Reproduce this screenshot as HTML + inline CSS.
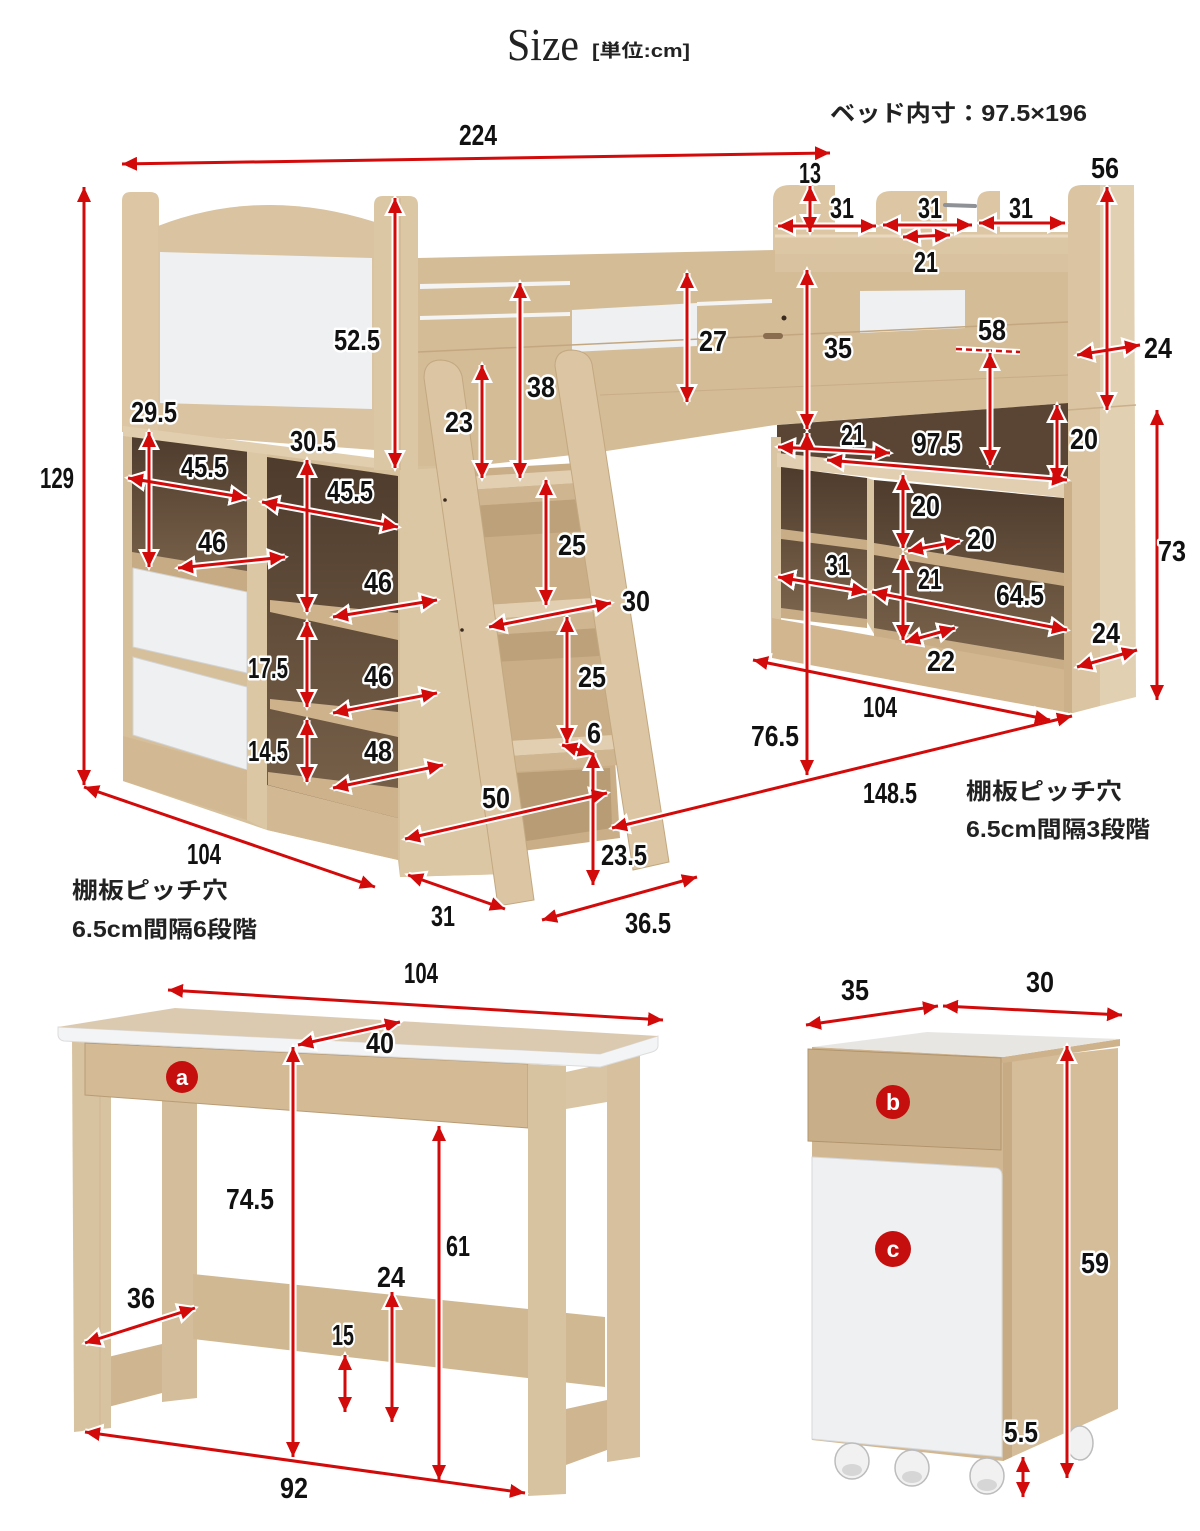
<!DOCTYPE html>
<html><head><meta charset="utf-8">
<style>
html,body{margin:0;padding:0;background:#fff;}
svg{display:block}
.t{font-family:"Liberation Sans","Noto Sans CJK JP",sans-serif;font-weight:bold;font-size:29px;text-anchor:middle;fill:#111;stroke:#fff;stroke-width:5px;stroke-linejoin:round;paint-order:stroke}
.j{font-family:"Liberation Sans","Noto Sans CJK JP",sans-serif;font-weight:bold;font-size:23px;fill:#222}
.h{stroke:#fff;stroke-width:7;marker-start:url(#hw);marker-end:url(#hw);fill:none}
.r{stroke:#d20a0a;stroke-width:3;marker-start:url(#hr);marker-end:url(#hr);fill:none}
.w{fill:#dac5a3}
.wd{fill:#cfb590}
.wl{fill:#e2cfb1}
.wh{fill:#eef0f2}
.dk{fill:url(#dk)}
</style></head>
<body>
<svg width="1200" height="1531" viewBox="0 0 1200 1531" xmlns="http://www.w3.org/2000/svg">
<defs>
 <marker id="hr" viewBox="0 0 15 14" refX="15" refY="7" markerWidth="15" markerHeight="14" orient="auto-start-reverse" markerUnits="userSpaceOnUse"><path d="M0,0 L15,7 L0,14 Z" fill="#d20a0a"/></marker>
 <marker id="hw" viewBox="-3 -4 22 22" refX="15" refY="7" markerWidth="22" markerHeight="22" orient="auto-start-reverse" markerUnits="userSpaceOnUse"><path d="M-3,-4 L19,7 L-3,18 Z" fill="#fff"/></marker>
 <linearGradient id="dk" x1="0" y1="0" x2="0" y2="1"><stop offset="0" stop-color="#4e3b2c"/><stop offset="1" stop-color="#7d664e"/></linearGradient>
 <g id="arr">
  <line x1="122" y1="164" x2="830" y2="153"/>
  <line x1="84" y1="187" x2="84" y2="785"/>
  <line x1="810" y1="186" x2="810" y2="232"/>
  <line x1="778" y1="226" x2="876" y2="226"/>
  <line x1="883" y1="225" x2="972" y2="225"/>
  <line x1="979" y1="223" x2="1065" y2="223"/>
  <line x1="903" y1="237" x2="950" y2="235"/>
  <line x1="1107" y1="187" x2="1107" y2="410"/>
  <line x1="1077" y1="355" x2="1140" y2="345"/>
  <line x1="990" y1="353" x2="990" y2="465"/>
  <line x1="687" y1="273" x2="687" y2="402"/>
  <line x1="807" y1="270" x2="807" y2="429"/>
  <line x1="807" y1="433" x2="807" y2="775"/>
  <line x1="1057" y1="405" x2="1057" y2="483"/>
  <line x1="778" y1="447" x2="890" y2="453"/>
  <line x1="827" y1="460" x2="1067" y2="480"/>
  <line x1="1157" y1="410" x2="1157" y2="700"/>
  <line x1="903" y1="475" x2="903" y2="548"/>
  <line x1="908" y1="551" x2="960" y2="541"/>
  <line x1="903" y1="555" x2="903" y2="640"/>
  <line x1="905" y1="642" x2="955" y2="628"/>
  <line x1="778" y1="577" x2="867" y2="592"/>
  <line x1="872" y1="592" x2="1067" y2="630"/>
  <line x1="1077" y1="667" x2="1137" y2="650"/>
  <line x1="753" y1="660" x2="1050" y2="720"/>
  <line x1="612" y1="828" x2="1072" y2="716"/>
  <line x1="395" y1="198" x2="395" y2="468"/>
  <line x1="520" y1="283" x2="520" y2="478"/>
  <line x1="482" y1="365" x2="482" y2="478"/>
  <line x1="546" y1="480" x2="546" y2="605"/>
  <line x1="489" y1="627" x2="611" y2="603"/>
  <line x1="567" y1="617" x2="567" y2="743"/>
  <line x1="562" y1="745" x2="593" y2="754"/>
  <line x1="593" y1="753" x2="593" y2="885"/>
  <line x1="405" y1="839" x2="607" y2="793"/>
  <line x1="408" y1="875" x2="505" y2="909"/>
  <line x1="542" y1="920" x2="697" y2="877"/>
  <line x1="84" y1="787" x2="375" y2="887"/>
  <line x1="149" y1="432" x2="149" y2="567"/>
  <line x1="128" y1="478" x2="247" y2="498"/>
  <line x1="178" y1="568" x2="285" y2="557"/>
  <line x1="307" y1="460" x2="307" y2="612"/>
  <line x1="262" y1="502" x2="398" y2="527"/>
  <line x1="333" y1="617" x2="437" y2="600"/>
  <line x1="307" y1="622" x2="307" y2="707"/>
  <line x1="333" y1="713" x2="437" y2="693"/>
  <line x1="307" y1="720" x2="307" y2="782"/>
  <line x1="333" y1="788" x2="443" y2="765"/>
  <line x1="168" y1="990" x2="663" y2="1020"/>
  <line x1="298" y1="1045" x2="400" y2="1022"/>
  <line x1="293" y1="1047" x2="293" y2="1457"/>
  <line x1="439" y1="1126" x2="439" y2="1480"/>
  <line x1="85" y1="1432" x2="525" y2="1493"/>
  <line x1="85" y1="1343" x2="195" y2="1308"/>
  <line x1="392" y1="1292" x2="392" y2="1422"/>
  <line x1="345" y1="1355" x2="345" y2="1412"/>
  <line x1="806" y1="1025" x2="938" y2="1006"/>
  <line x1="943" y1="1006" x2="1122" y2="1015"/>
  <line x1="1067" y1="1046" x2="1067" y2="1478"/>
  <line x1="1023" y1="1457" x2="1023" y2="1497"/>
 </g>
</defs>

<!-- TITLE -->
<text x="507" y="60" font-family="'Liberation Serif',serif" font-size="46" fill="#222" textLength="72" lengthAdjust="spacingAndGlyphs">Size</text>
<text x="592" y="57" font-family="'Liberation Sans','Noto Sans CJK JP',sans-serif" font-weight="bold" font-size="18" fill="#222" textLength="98" lengthAdjust="spacingAndGlyphs">[単位:cm]</text>
<text class="j" x="830" y="121" font-size="24" textLength="257" lengthAdjust="spacingAndGlyphs">ベッド内寸：97.5×196</text>

<!-- BED right tall post -->
<path d="M1068,198 Q1068,185 1082,185 L1100,185 L1100,706 L1073,713 L1068,713 Z" fill="#dac4a1"/>
<path d="M1100,185 L1134,185 L1136,697 L1100,706 Z" fill="#e2d0b3"/>
<line x1="1068" y1="410" x2="1136" y2="405" stroke="#c9af8a" stroke-width="1.5"/>

<!-- bed side frame -->
<path d="M418,258 L775,250 L1068,246 L1068,403 L775,425 L600,452 L418,472 Z" fill="#d4bc97"/>
<path d="M775,248 L1068,246 L1068,272 L775,272 Z" fill="#d8c29f"/>
<path d="M420,284 L570,281 L570,285 L420,289 Z" fill="#f4f4f4"/>
<path d="M420,316 L570,312 L570,316 L420,320 Z" fill="#f4f4f4"/>
<path d="M572,310 L697,303 L697,346 L572,352 Z" fill="#eef0f2"/>
<path d="M697,302 L772,299 L772,303 L697,306 Z" fill="#f4f4f4"/>
<path d="M860,291 L965,290 L965,328 L860,333 Z" fill="#eef0f2"/>
<line x1="418" y1="352" x2="1068" y2="322" stroke="#c3a781" stroke-width="1.5"/>
<line x1="600" y1="395" x2="1068" y2="375" stroke="#c8ad88" stroke-width="1"/>
<rect x="763" y="333" width="20" height="6" rx="3" fill="#8a6d4f"/>
<circle cx="784" cy="318" r="2.5" fill="#3a2a1d"/>

<!-- cubby headboard -->
<rect x="775" y="232" width="293" height="22" fill="#dcc7a5"/>
<path d="M773,250 L773,200 Q773,185 790,185 L835,185 L835,250 Z" fill="#dcc6a3"/>
<path d="M876,250 L876,204 Q876,191 892,191 L947,191 L947,250 Z" fill="#dcc6a3"/>
<path d="M977,250 L977,204 Q977,191 990,191 L1000,191 L1000,250 Z" fill="#dcc6a3"/>
<line x1="945" y1="205" x2="975" y2="206" stroke="#8e9196" stroke-width="4" stroke-linecap="round"/>
<line x1="775" y1="236" x2="1068" y2="236" stroke="#ead9bf" stroke-width="3"/>

<!-- dark zone under bed right -->
<path d="M777,425 L1068,403 L1068,487 L777,456 Z" fill="#5a4534"/>

<!-- right lower shelf unit -->
<path d="M771,437 L781,437 L781,660 L771,657 Z" class="w"/>
<path d="M777,453 L1067,482 L1067,498 L777,467 Z" class="wl"/>
<path d="M781,467 L867,478 L867,622 L781,615 Z" class="dk"/>
<path d="M867,478 L874,480 L874,634 L867,622 Z" class="w"/>
<path d="M874,480 L1064,498 L1064,668 L874,634 Z" class="dk"/>
<path d="M781,529 L867,540 L867,550 L781,539 Z" fill="#c8ad87"/>
<path d="M874,543 L1064,573 L1064,586 L874,555 Z" fill="#c8ad87"/>
<path d="M781,608 L867,619 L867,628 L781,618 Z" fill="#c8ad87"/>
<path d="M874,628 L1064,660 L1064,672 L874,638 Z" fill="#c8ad87"/>
<path d="M772,618 L1067,670 L1070,713 L772,658 Z" fill="#d1b690"/>
<path d="M1064,482 L1072,482 L1072,713 L1064,712 Z" fill="#cbb08a"/>

<!-- LEFT CABINET -->
<path d="M123,428 L420,466 L442,466 L508,874 L400,877 L398,860 L267,830 L123,781 Z" fill="#d6bf9b"/>
<path d="M400,470 L442,468 L508,874 L400,877 Z" fill="#dcc7a5"/>
<path d="M132,434 L247,446 L247,592 L132,568 Z" class="dk"/>
<path d="M132,552 L247,571 L247,592 L132,568 Z" fill="#c7ab84"/>
<path d="M133,568 L247,592 L247,673 L133,647 Z" class="wh" stroke="#d2d4d6"/>
<path d="M133,657 L247,687 L247,770 L133,735 Z" class="wh" stroke="#d2d4d6"/>
<path d="M247,446 L267,453 L267,830 L247,820 Z" fill="#dcc7a5"/>
<path d="M267,457 L398,476 L398,852 L267,827 Z" class="dk"/>
<path d="M270,600 L398,613 L398,640 L270,612 Z" fill="#cdb28c"/>
<path d="M270,699 L398,712 L398,737 L270,709 Z" fill="#cdb28c"/>
<path d="M268,772 L398,788 L398,818 L268,785 Z" fill="#cdb28c"/>
<path d="M267,785 L398,818 L398,860 L267,830 Z" fill="#d3b993"/>
<path d="M123,736 L247,770 L247,820 L123,781 Z" fill="#d3b993"/>

<!-- headboard -->
<path d="M122,432 L122,201 Q122,192 131,192 L150,192 Q159,192 159,201 L159,432 Z" fill="#dcc6a4"/>
<path d="M158,226 Q262,186 375,222 L375,450 L158,434 Z" fill="#d9c3a0"/>
<path d="M160,252 L372,258 L372,409 L160,403 Z" class="wh"/>
<path d="M123,426 L375,458 L375,468 L123,436 Z" fill="#e1ceae"/>
<path d="M374,470 L374,205 Q374,196 383,196 L409,196 Q418,196 418,205 L418,470 Z" fill="#dcc7a5"/>
<line x1="400" y1="198" x2="400" y2="470" stroke="#ccb18c" stroke-width="1"/>

<!-- stair box -->
<path d="M455,470 L596,462 L620,838 L515,852 Z" fill="#c9ae88"/>
<path d="M470,506 L597,498 L600,530 L474,538 Z" fill="#bda17b"/>
<path d="M490,635 L614,627 L616,655 L494,662 Z" fill="#bda17b"/>
<path d="M515,773 L610,768 L612,828 L520,842 Z" fill="#b89c76"/>

<!-- treads -->
<path d="M465,477 L590,469 L594,482 L467,490 Z" class="wl"/>
<path d="M467,490 L594,482 L596,498 L470,506 Z" class="wd"/>
<path d="M485,605 L609,597 L612,611 L487,619 Z" class="wl"/>
<path d="M487,619 L612,611 L614,627 L490,635 Z" class="wd"/>
<path d="M508,741 L631,734 L633,748 L510,756 Z" class="wl"/>
<path d="M510,756 L633,748 L635,764 L513,772 Z" class="wd"/>

<!-- stringers -->
<path d="M424,378 Q424,360 441,360 Q458,361 462,376 L534,900 L498,906 Z" fill="#dbc5a2" stroke="#c3a880" stroke-width="1"/>
<path d="M555,366 Q555,350 572,350 Q589,351 592,364 L669,862 L633,870 Z" fill="#dbc5a2" stroke="#c3a880" stroke-width="1"/>
<circle cx="445" cy="500" r="1.8" fill="#3a2a1d"/>
<circle cx="462" cy="630" r="1.8" fill="#3a2a1d"/>

<!-- DESK -->
<path d="M162,1098 L197,1098 L197,1398 L162,1402 Z" fill="#d4bd9a"/>
<path d="M193,1274 L605,1317 L605,1387 L193,1339 Z" fill="#d0b892"/>
<path d="M607,1057 L640,1050 L640,1457 L607,1462 Z" fill="#d6c09e"/>
<path d="M566,1072 L607,1063 L607,1102 L566,1109 Z" fill="#d9c5a4"/>
<path d="M566,1409 L607,1400 L607,1450 L566,1465 Z" fill="#cfb590"/>
<path d="M108,1357 L162,1344 L162,1393 L108,1407 Z" fill="#cfb590"/>
<path d="M72,1038 L111,1038 L111,1428 L74,1432 Z" fill="#d8c3a1"/>
<line x1="100" y1="1040" x2="100" y2="1430" stroke="#cdb592" stroke-width="1"/>
<path d="M85,1043 L528,1064 L528,1128 L85,1095 Z" fill="#d4bb95" stroke="#b89c76" stroke-width="1"/>
<path d="M528,1064 L566,1066 L566,1494 L528,1496 Z" fill="#d8c3a1"/>
<path d="M58,1027 L600,1054 L658,1036 L658,1046 Q658,1050 652,1052 L600,1067 L64,1041 Q58,1040 58,1034 Z" fill="#f3f4f6" stroke="#dcdcdc" stroke-width="1"/>
<path d="M58,1027 L175,1008 L658,1036 L600,1054 Z" fill="#dccab0"/>

<!-- CABINET -->
<path d="M1003,1061 L1118,1048 L1118,1409 L1003,1461 Z" fill="#d5bd99"/>
<path d="M1003,1061 L1012,1060 L1012,1457 L1003,1461 Z" fill="#c7ab85"/>
<path d="M812,1047 L1003,1057 L1003,1461 L812,1440 Z" fill="#d2b892"/>
<path d="M812,1047 L1003,1057 L1120,1039 L1120,1046 L1003,1063 L812,1053 Z" fill="#cdb28c"/>
<path d="M812,1047 L927,1032 L1120,1039 L1003,1057 Z" fill="#e8e6e2"/>
<path d="M808,1049 L1001,1058 L1001,1150 L808,1141 Z" fill="#c9af89" stroke="#b2956f" stroke-width="1"/>
<path d="M812,1157 L996,1168 Q1002,1169 1002,1176 L1002,1457 L812,1439 Z" class="wh" stroke="#d5d7da" stroke-width="1"/>
<g fill="#f1f1f1" stroke="#bcbcbc" stroke-width="1.5">
 <ellipse cx="1080" cy="1443" rx="13" ry="17"/>
 <ellipse cx="852" cy="1461" rx="17" ry="18"/>
 <ellipse cx="912" cy="1468" rx="17" ry="18"/>
 <ellipse cx="987" cy="1476" rx="17" ry="18"/>
</g>
<g fill="#d6d6d6">
 <ellipse cx="852" cy="1470" rx="10" ry="6"/>
 <ellipse cx="912" cy="1477" rx="10" ry="6"/>
 <ellipse cx="987" cy="1485" rx="10" ry="6"/>
</g>

<!-- circles -->
<circle cx="182" cy="1077" r="16" fill="#c50f0f"/>
<text x="182" y="1085" font-family="'Liberation Sans',sans-serif" font-weight="bold" font-size="22" fill="#fff" text-anchor="middle">a</text>
<circle cx="893" cy="1102" r="17" fill="#c50f0f"/>
<text x="893" y="1110" font-family="'Liberation Sans',sans-serif" font-weight="bold" font-size="23" fill="#fff" text-anchor="middle">b</text>
<circle cx="893" cy="1249" r="18" fill="#c50f0f"/>
<text x="893" y="1257" font-family="'Liberation Sans',sans-serif" font-weight="bold" font-size="23" fill="#fff" text-anchor="middle">c</text>

<!-- ARROWS -->
<line x1="956" y1="349" x2="1020" y2="352" stroke="#fff" stroke-width="6"/>
<line x1="956" y1="349" x2="1020" y2="352" stroke="#d20a0a" stroke-width="2.5" stroke-dasharray="6,4"/>
<use href="#arr" class="h"/>
<use href="#arr" class="r"/>

<!-- LABELS -->
<text class="t" x="478" y="145" textLength="38" lengthAdjust="spacingAndGlyphs">224</text>
<text class="t" x="57" y="488" textLength="34" lengthAdjust="spacingAndGlyphs">129</text>
<text class="t" x="810" y="183" textLength="22" lengthAdjust="spacingAndGlyphs">13</text>
<text class="t" x="842" y="218" textLength="24" lengthAdjust="spacingAndGlyphs">31</text>
<text class="t" x="930" y="218" textLength="24" lengthAdjust="spacingAndGlyphs">31</text>
<text class="t" x="1021" y="218" textLength="24" lengthAdjust="spacingAndGlyphs">31</text>
<text class="t" x="926" y="272" textLength="24" lengthAdjust="spacingAndGlyphs">21</text>
<text class="t" x="1105" y="178" textLength="28" lengthAdjust="spacingAndGlyphs">56</text>
<text class="t" x="357" y="350" textLength="46" lengthAdjust="spacingAndGlyphs">52.5</text>
<text class="t" x="713" y="351" textLength="28" lengthAdjust="spacingAndGlyphs">27</text>
<text class="t" x="838" y="358" textLength="28" lengthAdjust="spacingAndGlyphs">35</text>
<text class="t" x="992" y="340" textLength="28" lengthAdjust="spacingAndGlyphs">58</text>
<text class="t" x="1158" y="358" textLength="28" lengthAdjust="spacingAndGlyphs">24</text>
<text class="t" x="541" y="397" textLength="28" lengthAdjust="spacingAndGlyphs">38</text>
<text class="t" x="459" y="432" textLength="28" lengthAdjust="spacingAndGlyphs">23</text>
<text class="t" x="154" y="422" textLength="46" lengthAdjust="spacingAndGlyphs">29.5</text>
<text class="t" x="313" y="451" textLength="46" lengthAdjust="spacingAndGlyphs">30.5</text>
<text class="t" x="853" y="445" textLength="24" lengthAdjust="spacingAndGlyphs">21</text>
<text class="t" x="937" y="453" textLength="48" lengthAdjust="spacingAndGlyphs">97.5</text>
<text class="t" x="1084" y="449" textLength="28" lengthAdjust="spacingAndGlyphs">20</text>
<text class="t" x="204" y="477" textLength="46" lengthAdjust="spacingAndGlyphs">45.5</text>
<text class="t" x="350" y="501" textLength="46" lengthAdjust="spacingAndGlyphs">45.5</text>
<text class="t" x="926" y="516" textLength="28" lengthAdjust="spacingAndGlyphs">20</text>
<text class="t" x="981" y="549" textLength="28" lengthAdjust="spacingAndGlyphs">20</text>
<text class="t" x="212" y="552" textLength="28" lengthAdjust="spacingAndGlyphs">46</text>
<text class="t" x="572" y="555" textLength="28" lengthAdjust="spacingAndGlyphs">25</text>
<text class="t" x="1172" y="561" textLength="28" lengthAdjust="spacingAndGlyphs">73</text>
<text class="t" x="838" y="575" textLength="24" lengthAdjust="spacingAndGlyphs">31</text>
<text class="t" x="930" y="589" textLength="24" lengthAdjust="spacingAndGlyphs">21</text>
<text class="t" x="378" y="592" textLength="28" lengthAdjust="spacingAndGlyphs">46</text>
<text class="t" x="1020" y="605" textLength="48" lengthAdjust="spacingAndGlyphs">64.5</text>
<text class="t" x="636" y="611" textLength="28" lengthAdjust="spacingAndGlyphs">30</text>
<text class="t" x="1106" y="643" textLength="28" lengthAdjust="spacingAndGlyphs">24</text>
<text class="t" x="941" y="671" textLength="28" lengthAdjust="spacingAndGlyphs">22</text>
<text class="t" x="268" y="678" textLength="40" lengthAdjust="spacingAndGlyphs">17.5</text>
<text class="t" x="378" y="686" textLength="28" lengthAdjust="spacingAndGlyphs">46</text>
<text class="t" x="592" y="687" textLength="28" lengthAdjust="spacingAndGlyphs">25</text>
<text class="t" x="880" y="717" textLength="34" lengthAdjust="spacingAndGlyphs">104</text>
<text class="t" x="775" y="746" textLength="48" lengthAdjust="spacingAndGlyphs">76.5</text>
<text class="t" x="594" y="743" textLength="14" lengthAdjust="spacingAndGlyphs">6</text>
<text class="t" x="268" y="761" textLength="40" lengthAdjust="spacingAndGlyphs">14.5</text>
<text class="t" x="378" y="761" textLength="28" lengthAdjust="spacingAndGlyphs">48</text>
<text class="t" x="890" y="803" textLength="54" lengthAdjust="spacingAndGlyphs">148.5</text>
<text class="t" x="496" y="808" textLength="28" lengthAdjust="spacingAndGlyphs">50</text>
<text class="t" x="204" y="864" textLength="34" lengthAdjust="spacingAndGlyphs">104</text>
<text class="t" x="624" y="865" textLength="46" lengthAdjust="spacingAndGlyphs">23.5</text>
<text class="t" x="443" y="926" textLength="24" lengthAdjust="spacingAndGlyphs">31</text>
<text class="t" x="648" y="933" textLength="46" lengthAdjust="spacingAndGlyphs">36.5</text>
<text class="t" x="421" y="983" textLength="34" lengthAdjust="spacingAndGlyphs">104</text>
<text class="t" x="380" y="1053" textLength="28" lengthAdjust="spacingAndGlyphs">40</text>
<text class="t" x="250" y="1209" textLength="48" lengthAdjust="spacingAndGlyphs">74.5</text>
<text class="t" x="458" y="1256" textLength="24" lengthAdjust="spacingAndGlyphs">61</text>
<text class="t" x="391" y="1287" textLength="28" lengthAdjust="spacingAndGlyphs">24</text>
<text class="t" x="141" y="1308" textLength="28" lengthAdjust="spacingAndGlyphs">36</text>
<text class="t" x="343" y="1345" textLength="22" lengthAdjust="spacingAndGlyphs">15</text>
<text class="t" x="294" y="1498" textLength="28" lengthAdjust="spacingAndGlyphs">92</text>
<text class="t" x="855" y="1000" textLength="28" lengthAdjust="spacingAndGlyphs">35</text>
<text class="t" x="1040" y="992" textLength="28" lengthAdjust="spacingAndGlyphs">30</text>
<text class="t" x="1095" y="1273" textLength="28" lengthAdjust="spacingAndGlyphs">59</text>
<text class="t" x="1021" y="1442" textLength="34" lengthAdjust="spacingAndGlyphs">5.5</text>

<!-- notes -->
<text class="j" x="72" y="898" textLength="156" lengthAdjust="spacingAndGlyphs">棚板ピッチ穴</text>
<text class="j" x="72" y="937" textLength="185" lengthAdjust="spacingAndGlyphs">6.5cm間隔6段階</text>
<text class="j" x="966" y="799" textLength="156" lengthAdjust="spacingAndGlyphs">棚板ピッチ穴</text>
<text class="j" x="966" y="837" textLength="184" lengthAdjust="spacingAndGlyphs">6.5cm間隔3段階</text>
</svg>
</body></html>
